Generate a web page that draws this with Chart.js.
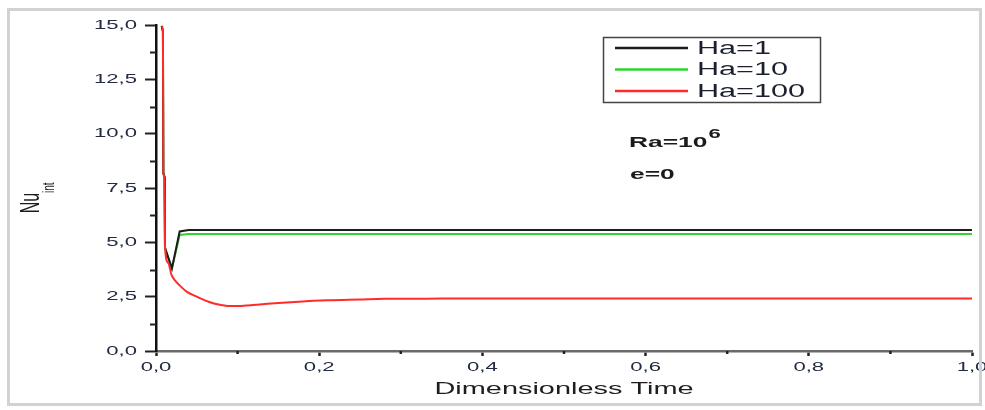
<!DOCTYPE html>
<html>
<head>
<meta charset="utf-8">
<script src="https://cdn.jsdelivr.net/npm/chart.js@4/dist/chart.umd.min.js"></script>
<style>
  html, body { margin: 0; padding: 0; background: #fff; }
  #wrap { width: 985px; height: 410px; position: relative; }
</style>
</head>
<body>
<div id="wrap"><canvas id="nuChart"></canvas></div>
<script>
// Interface Nusselt number against dimensionless time, Ra = 1e6, e = 0
const seriesNames = ['Ha=1', 'Ha=10', 'Ha=100'];

const timeHa1 = [0.0070, 0.0085, 0.0090, 0.0105, 0.0110, 0.0195, 0.0290, 0.0400, 1.0000];
const nuHa1   = [14.95, 14.70, 8.20, 8.00, 4.75, 3.80, 5.50, 5.57, 5.57];

const timeHa10 = [0.0070, 0.0085, 0.0090, 0.0105, 0.0110, 0.0195, 0.0290, 0.0400, 1.0000];
const nuHa10   = [14.95, 14.70, 8.20, 8.00, 4.75, 3.80, 5.34, 5.38, 5.38];

const timeHa100 = [0.0070, 0.0085, 0.0090, 0.0105, 0.0110, 0.0150, 0.0190, 0.0240, 0.0290, 0.0380,
                   0.0500, 0.0600, 0.0700, 0.0800, 0.0880, 0.1000, 0.1100, 0.1300, 0.1500, 0.1750,
                   0.2100, 0.2500, 0.2800, 0.3500, 0.4500, 0.6000, 0.8000, 1.0000];
const nuHa100   = [14.95, 14.70, 8.20, 8.00, 4.80, 4.05, 3.50, 3.22, 3.02, 2.72,
                   2.50, 2.33, 2.20, 2.12, 2.07, 2.07, 2.09, 2.15, 2.21, 2.27,
                   2.33, 2.37, 2.40, 2.41, 2.42, 2.42, 2.42, 2.42];

const xTickLabels = ['0,0', '0,2', '0,4', '0,6', '0,8', '1,0'];
const yTickLabels = ['0,0', '2,5', '5,0', '7,5', '10,0', '12,5', '15,0'];

const FONT = '"Liberation Sans", Arial, sans-serif';
const TICK_COLOR = '#222a40';
const WIDEN = 1.7; // horizontal stretch of the lettering

const canvas = document.getElementById('nuChart');
const ctx2d = canvas.getContext('2d');

// Wide lettering: every label is drawn and measured with a horizontal stretch
const plainFill = ctx2d.fillText;
const plainMeasure = ctx2d.measureText;
ctx2d.fillText = function (text, x, y) {
  this.save();
  this.translate(x, y);
  this.scale(WIDEN, 1);
  plainFill.call(this, text, 0, 0);
  this.restore();
};
ctx2d.measureText = function (text) {
  const m = plainMeasure.call(this, text);
  return {
    width: m.width * WIDEN,
    actualBoundingBoxAscent: m.actualBoundingBoxAscent,
    actualBoundingBoxDescent: m.actualBoundingBoxDescent,
    actualBoundingBoxLeft: m.actualBoundingBoxLeft * WIDEN,
    actualBoundingBoxRight: m.actualBoundingBoxRight * WIDEN
  };
};

const toPoints = (xs, ys) => xs.map((t, i) => ({ x: t, y: ys[i] }));
const isMajorX = (v) => Math.round(v * 10) % 2 === 0;
const isMajorY = (v) => Math.abs(v / 2.5 - Math.round(v / 2.5)) < 1e-6;

const colors = ['#1c1c1c', '#2fd42f', '#ff2b2b'];

const decor = {
  id: 'decor',
  afterDraw(chart) {
    const { ctx, chartArea, scales: { x, y } } = chart;
    ctx.save();

    // outer frame
    ctx.strokeStyle = '#d2d2d2';
    ctx.lineWidth = 3;
    ctx.strokeRect(8.5, 9.5, 972, 395);

    // minor ticks
    ctx.strokeStyle = '#222';
    ctx.lineWidth = 2;
    y.ticks.forEach((t) => {
      if (!isMajorY(t.value)) {
        const py = Math.round(y.getPixelForValue(t.value)) + 0.5;
        ctx.beginPath();
        ctx.moveTo(chartArea.left - 6, py);
        ctx.lineTo(chartArea.left, py);
        ctx.stroke();
      }
    });
    ctx.lineWidth = 2.5;
    x.ticks.forEach((t) => {
      if (!isMajorX(t.value)) {
        const px = x.getPixelForValue(t.value);
        ctx.beginPath();
        ctx.moveTo(px, chartArea.bottom);
        ctx.lineTo(px, chartArea.bottom + 3);
        ctx.stroke();
      }
    });

    // legend box
    ctx.strokeStyle = '#444';
    ctx.lineWidth = 1.5;
    ctx.strokeRect(603.5, 37.5, 217, 65);
    ctx.font = '18px ' + FONT;
    ctx.textAlign = 'left';
    ctx.textBaseline = 'middle';
    seriesNames.forEach((name, i) => {
      const ry = 48 + i * 21.5;
      ctx.strokeStyle = colors[i];
      ctx.lineWidth = 2.5;
      ctx.beginPath();
      ctx.moveTo(615, ry);
      ctx.lineTo(688, ry);
      ctx.stroke();
      ctx.fillStyle = '#1b2030';
      ctx.fillText(name, 697, ry + 1);
    });

    // parameter notes
    ctx.fillStyle = '#1b1b1b';
    ctx.font = 'bold 15.5px ' + FONT;
    ctx.fillText('Ra=10', 629, 143);
    const wRa = ctx.measureText('Ra=10').width;
    ctx.font = 'bold 13px ' + FONT;
    ctx.fillText('6', 629 + wRa + 1, 134);
    ctx.font = 'bold 15.5px ' + FONT;
    ctx.fillText('e=0', 630, 175);

    // y axis title with subscript
    ctx.fillStyle = '#1b1b1b';
    ctx.translate(32, 203);
    ctx.scale(WIDEN, 1);
    ctx.rotate(-Math.PI / 2);
    ctx.textAlign = 'center';
    ctx.font = '16px ' + FONT;
    plainFill.call(ctx, 'Nu', 0, 0);
    ctx.textAlign = 'left';
    ctx.font = '10px ' + FONT;
    plainFill.call(ctx, 'int', 10, 10);

    ctx.restore();
  }
};

new Chart(canvas, {
  type: 'line',
  data: {
    datasets: [
      { label: seriesNames[0], data: toPoints(timeHa1, nuHa1), borderColor: colors[0], borderWidth: 2, order: 1, tension: 0 },
      { label: seriesNames[1], data: toPoints(timeHa10, nuHa10), borderColor: colors[1], borderWidth: 2, order: 2, tension: 0 },
      { label: seriesNames[2], data: toPoints(timeHa100, nuHa100), borderColor: colors[2], borderWidth: 2, order: 0, cubicInterpolationMode: 'monotone' }
    ]
  },
  options: {
    responsive: true,
    maintainAspectRatio: false,
    animation: false,
    layout: { padding: { left: 10, right: 13, top: 25, bottom: 10 } },
    elements: { point: { radius: 0 } },
    plugins: { legend: { display: false }, tooltip: { enabled: false } },
    scales: {
      x: {
        type: 'linear',
        min: 0,
        max: 1,
        ticks: {
          stepSize: 0.1,
          autoSkip: false,
          maxRotation: 0,
          padding: 4,
          color: TICK_COLOR,
          font: { family: FONT, size: 13 },
          callback: (v) => (isMajorX(v) ? xTickLabels[Math.round(v * 5)] : '')
        },
        grid: {
          display: true,
          drawOnChartArea: false,
          drawTicks: true,
          tickLength: 5,
          tickWidth: 2.5,
          tickColor: (c) => (c.tick && isMajorX(c.tick.value) ? '#222' : 'rgba(0,0,0,0)')
        },
        border: { display: true, color: '#6a6a6a', width: 2.5 },
        title: {
          display: true,
          text: 'Dimensionless Time',
          color: '#1e1e1e',
          font: { family: FONT, size: 17 },
          padding: 0
        },
        afterFit: (s) => { s.height = 49; s.paddingLeft = 0; s.paddingRight = 0; }
      },
      y: {
        min: 0,
        max: 15,
        ticks: {
          stepSize: 1.25,
          autoSkip: false,
          padding: 8,
          color: TICK_COLOR,
          font: { family: FONT, size: 13 },
          callback: (v) => (isMajorY(v) ? yTickLabels[Math.round(v / 2.5)] : '')
        },
        grid: {
          display: true,
          drawOnChartArea: false,
          drawTicks: true,
          tickLength: 11,
          tickWidth: 2,
          tickColor: (c) => (c.tick && isMajorY(c.tick.value) ? '#222' : 'rgba(0,0,0,0)')
        },
        border: { display: true, color: '#111', width: 2.5 },
        afterFit: (s) => { s.width = 146; s.paddingTop = 0; s.paddingBottom = 0; }
      }
    }
  },
  plugins: [decor]
});
</script>
</body>
</html>
